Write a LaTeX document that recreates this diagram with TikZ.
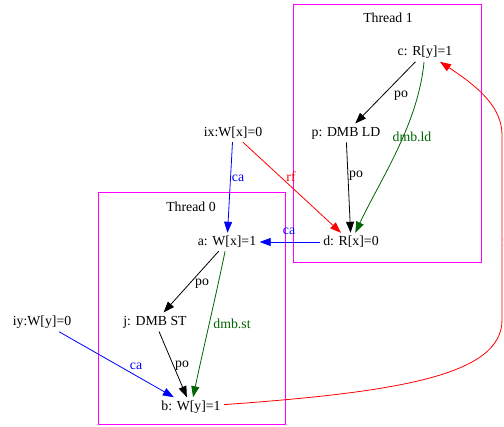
\documentclass[tikz,border=0pt]{standalone}
\usepackage{fontspec}
\setmainfont{Liberation Serif}
\usetikzlibrary{arrows.meta}
\definecolor{dgreen}{RGB}{0,100,0}
\definecolor{mag}{RGB}{255,0,255}
\begin{document}
\begin{tikzpicture}[x=1pt,y=-1pt,
  every node/.style={font=\fontsize{13.8}{16}\selectfont},
  ev/.style={inner sep=1pt, outer sep=2.5pt},
  lbl/.style={inner sep=0pt},
  clus/.style={draw=mag, line width=1pt},
  arr/.style={-{Triangle[length=11pt,width=8pt]}, line width=0.8pt},
  po/.style={arr, black},
  ca/.style={arr, blue},
  rf/.style={arr, red},
  dmb/.style={arr, dgreen}]
\useasboundingbox (0,0) rectangle (504,427);
\fill[white] (0,0) rectangle (504,427);
% clusters
\draw[clus] (293,5) rectangle (481,263);
\draw[clus] (98,193) rectangle (285,425);
\node (t1) at (388,18) {Thread 1};
\node (t0) at (191,207) {Thread 0};
% events
\node[ev] (c) at (425,52) {c: R[y]=1};
\node[ev] (p) at (346,133) {p: DMB LD};
\node[ev] (d) at (351,242) {d: R[x]=0};
\node[ev] (ix) at (233,133) {ix:W[x]=0};
\node[ev] (a) at (227,242) {a: W[x]=1};
\node[ev] (j) at (155,322) {j: DMB ST};
\node[ev] (iy) at (42,322) {iy:W[y]=0};
\node[ev] (b) at (191,407) {b: W[y]=1};
% edges
\draw[po] (c) -- (p);
\node[lbl] (l1) at (401,96) {po};
\draw[dmb] (c) .. controls (418,125) and (380,180) .. (d);
\node[lbl, text=dgreen] (l2) at (412,137) {dmb.ld};
\draw[po] (p) -- (d);
\node[lbl] (l3) at (356,176) {po};
\draw[rf] (ix) -- (d);
\node[lbl, text=red] (l4) at (291,177) {rf};
\draw[ca] (ix) -- (a);
\node[lbl, text=blue] (l5) at (238,178) {ca};
\draw[ca] (d) -- (a);
\node[lbl, text=blue] (l6) at (289,231) {ca};
\draw[po] (a) -- (j);
\node[lbl] (l7) at (202,284) {po};
\draw[dmb] (a) .. controls (215,300) and (203,350) .. (b);
\node[lbl, text=dgreen] (l8) at (232,324) {dmb.st};
\draw[po] (j) -- (b);
\node[lbl] (l9) at (182,366) {po};
\draw[ca] (iy) -- (b);
\node[lbl, text=blue] (l10) at (136,366) {ca};
\coordinate (r1) at (502,320);
\coordinate (r2) at (502,135);
\draw[rf] (b) .. controls (400,392) and (502,375) .. (r1) -- (r2) .. controls (502,108) and (480,88) .. (c);
\node[lbl, text=red] (l11) at (508,242) {rf};
\end{tikzpicture}
\end{document}
